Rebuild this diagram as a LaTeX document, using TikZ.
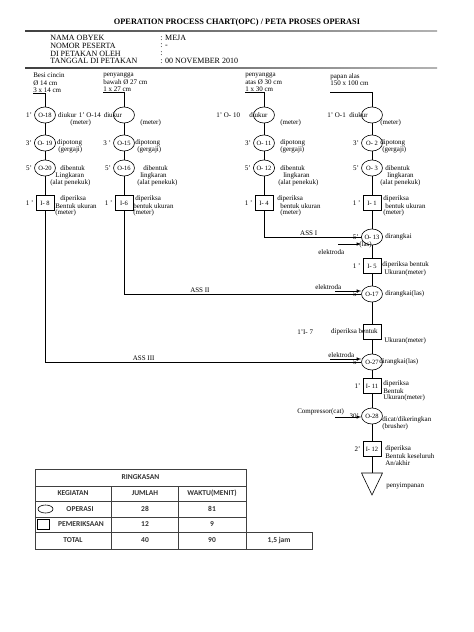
\documentclass[tikz,border=0pt]{standalone}
\usepackage{fontspec}
\setmainfont{Liberation Serif}
\newfontfamily\tablefont{Carlito}
\usetikzlibrary{shapes,positioning}

\begin{document}
\begin{tikzpicture}[x=1pt, y=-1pt, line width=0.6pt,
    op/.style={ellipse, draw, minimum width=21pt, minimum height=16pt, inner sep=0pt, font=\fontsize{6.5}{7}\selectfont},
    insp/.style={rectangle, draw, minimum width=18pt, minimum height=15pt, inner sep=0pt, font=\fontsize{6.5}{7}\selectfont},
    lbl/.style={inner sep=0pt, anchor=west, font=\fontsize{7}{7.5}\selectfont},
    head/.style={inner sep=0pt, anchor=west, font=\fontsize{8}{8}\selectfont},
    feed/.style={-latex},
    cell/.style={inner sep=0pt, font=\tablefont\bfseries\fontsize{7.5}{8}\selectfont, text=black!80}
]
\useasboundingbox (0,0) rectangle (474,632);

% Header
\node[font=\bfseries\fontsize{8.3}{10}\selectfont] (title) at (237,23) {OPERATION PROCESS CHART(OPC) / PETA PROSES OPERASI};
\shade[left color=black!75, right color=black!30] (25,30.2) rectangle (437,31.8);
\foreach \fld/\val [count=\i] in {NAMA OBYEK/: MEJA, NOMOR PESERTA/: -, DI PETAKAN OLEH/:, TANGGAL DI PETAKAN/: 00 NOVEMBER 2010} {
    \node[head] (fld\i) at (50,{30.5+7.7*\i}) {\fld};
    \node[head] (val\i) at (160,{30.5+7.7*\i}) {\val};
}
\shade[left color=black!75, right color=black!30] (25,67.2) rectangle (437,68.8);

% Materials
\node[lbl, anchor=north west, align=left] (m1) at (33,73) {Besi cincin\\ Ø 14 cm\\ 3 x 14 cm};
\node[lbl, anchor=north west, align=left] (m2) at (103,73) {penyangga\\ bawah Ø 27 cm\\ 1 x 27 cm};
\node[lbl, anchor=north west, align=left] (m3) at (245,73) {penyangga\\ atas Ø 30 cm\\ 1 x 30 cm};
\node[lbl, anchor=north west, align=left] (m4) at (330,73) {papan alas\\ 150 x 100 cm};

% Column 1 (besi cincin)
\node[op] (o18) at (45,115) {O-18};
\node[lbl, left=2pt of o18] (t18) {1'};
\node[lbl, right=2pt of o18] (d18) {diukur};
\node[lbl] (u18) at (70,123) {(meter)};
\node[op] (o19) at (45,143) {O- 19};
\node[lbl, left=2pt of o19] (t19) {3'};
\node[lbl, right=1pt of o19] (d19) {dipotong};
\node[lbl] (g19) at (58,150) {(gergaji)};
\node[op] (o20) at (45,168) {O-20};
\node[lbl, left=2pt of o20] (t20) {5'};
\node[lbl] (d20) at (60,168) {dibentuk};
\node[lbl] (k20) at (55,176) {Lingkaran};
\node[lbl] (a20) at (50,183) {(alat penekuk)};
\node[insp] (i8) at (45,203) {I- 8};
\node[lbl, left=2pt of i8] (t8) {1 '};
\node[lbl] (d8) at (60,199) {diperiksa};
\node[lbl] (b8) at (55,206) {Bentuk ukuran};
\node[lbl] (u8) at (55,213) {(meter)};

% Column 2 (penyangga bawah)
\node[op] (o14) at (124,115) {};
\node[lbl] (t14) at (78.5,115) {1' O-14};
\node[lbl] (d14) at (103.5,115) {diukur};
\node[lbl] (u14) at (140,123) {(meter)};
\node[op] (o15) at (124,143) {O-15};
\node[lbl, left=2pt of o15] (t15) {3 '};
\node[lbl] (d15) at (135,143) {dipotong};
\node[lbl] (g15) at (137,150) {(gergaji)};
\node[op] (o16) at (124,168) {O-16};
\node[lbl, left=2pt of o16] (t16) {5'};
\node[lbl] (d16) at (143,168) {dibentuk};
\node[lbl] (k16) at (140,176) {lingkaran};
\node[lbl] (a16) at (137,183) {(alat penekuk)};
\node[insp] (i6) at (124,203) {I-6};
\node[lbl, left=2pt of i6] (t6) {1 '};
\node[lbl] (d6) at (135,199) {diperiksa};
\node[lbl] (b6) at (133,206) {bentuk ukuran};
\node[lbl] (u6) at (133,213) {(meter)};

% Column 3 (penyangga atas)
\node[op] (o10) at (264,115) {};
\node[lbl] (t10) at (216,115) {1' O- 10};
\node[lbl] (d10) at (249,115) {diukur};
\node[lbl] (u10) at (280,123) {(meter)};
\node[op] (o11) at (264,143) {O- 11};
\node[lbl, left=2pt of o11] (t11) {3'};
\node[lbl] (d11) at (280,143) {dipotong};
\node[lbl] (g11) at (280,150) {(gergaji)};
\node[op] (o12) at (264,168) {O- 12};
\node[lbl, left=2pt of o12] (t12) {5'};
\node[lbl] (d12) at (280,168) {dibentuk};
\node[lbl] (k12) at (283,176) {lingkaran};
\node[lbl] (a12) at (278,183) {(alat penekuk)};
\node[insp] (i4) at (264,203) {I- 4};
\node[lbl, left=2pt of i4] (t4) {1 '};
\node[lbl] (d4) at (277,199) {diperiksa};
\node[lbl] (b4) at (280,206) {bentuk ukuran};
\node[lbl] (u4) at (280,213) {(meter)};

% Column 4 (papan alas)
\node[op] (o1) at (372,115) {};
\node[lbl] (t1) at (327,115) {1' O-1};
\node[lbl] (d1) at (349,115) {diukur};
\node[lbl] (u1) at (380,123) {(meter)};
\node[op] (o2) at (372,143) {O- 2};
\node[lbl, left=2pt of o2] (t2) {3'};
\node[lbl] (d2) at (380,143) {dipotong};
\node[lbl] (g2) at (382,150) {(gergaji)};
\node[op] (o3) at (372,168) {O- 3};
\node[lbl, left=2pt of o3] (t3) {5'};
\node[lbl] (d3) at (385,168) {dibentuk};
\node[lbl] (k3) at (387,176) {lingkaran};
\node[lbl] (a3) at (380,183) {(alat penekuk)};
\node[insp] (i1) at (372,203) {I- 1};
\node[lbl, left=2pt of i1] (ti1) {1 '};
\node[lbl] (di1) at (383,199) {diperiksa};
\node[lbl] (bi1) at (385,206) {bentuk ukuran};
\node[lbl] (ui1) at (383,213) {(meter)};

% Assembly
\node[op] (o13) at (372,237) {O- 13};
\node[lbl, left=2pt of o13] (t13) {5'};
\node[lbl] (d13) at (385,237) {dirangkai};
\node[lbl] (l13) at (359,245) {(las)};
\coordinate (e13) at (338,244);
\node[lbl] (el13) at (318,252) {elektroda};
\node[insp] (i5) at (372,266) {I- 5};
\node[lbl, left=2pt of i5] (t5) {1 '};
\node[lbl] (d5) at (382,265) {diperiksa bentuk};
\node[lbl] (u5) at (384,273) {Ukuran(meter)};
\node[op] (o17) at (372,294) {O-17};
\node[lbl, left=2pt of o17] (t17) {5'};
\node[lbl] (d17) at (385,294) {dirangkai(las)};
\coordinate (e17) at (335,291);
\node[lbl] (el17) at (315,287) {elektroda};
\node[insp] (i7) at (372,332) {};
\node[lbl] (t7) at (297,332) {1'I- 7};
\node[lbl, anchor=east] (d7) at (378,332) {diperiksa bentuk};
\node[lbl] (u7) at (384,341) {Ukuran(meter)};
\node[op] (o27) at (372,362) {O-27};
\node[lbl, left=2pt of o27] (t27) {5'};
\node[lbl] (d27) at (379,362) {dirangkai(las)};
\coordinate (e27) at (330,359);
\node[lbl] (el27) at (328,355) {elektroda};
\node[insp] (i11) at (372,386) {I- 11};
\node[lbl, left=2pt of i11] (t11b) {1'};
\node[lbl] (d11b) at (383,384) {diperiksa};
\node[lbl] (b11b) at (383,391) {Bentuk};
\node[lbl] (u11b) at (383,398) {Ukuran(meter)};
\node[op] (o28) at (372,416) {O-28};
\node[lbl, left=2pt of o28] (t28) {30'};
\node[lbl] (d28) at (382,420) {dicat/dikeringkan};
\node[lbl] (b28) at (382,427) {(brusher)};
\coordinate (e28) at (335,417);
\node[lbl] (cp28) at (297,412) {Compressor(cat)};
\node[insp] (i12) at (372,449) {I- 12};
\node[lbl, left=2pt of i12] (t12b) {2'};
\node[lbl] (d12b) at (385,449) {diperiksa};
\node[lbl] (b12b) at (385,456) {Bentuk keseluruh};
\node[lbl] (a12b) at (385,463) {An/akhir};
\coordinate (st) at (372,473);
\draw (st) ++(-10.5,0) -- ++(21,0) -- ++(-10.5,22) -- cycle;
\node[lbl] (sp) at (386,486) {penyimpanan};

% Flow lines
\draw (m1.south west) -| (o18);
\draw (o18) -- (o19) -- (o20) -- (i8);
\draw (m2.south west) -| (o14);
\draw (o14) -- (o15) -- (o16) -- (i6);
\draw (m3.south west) -| (o10);
\draw (o10) -- (o11) -- (o12) -- (i4);
\draw (m4.south west |- m3.south) -| (o1);
\draw (o1) -- (o2) -- (o3) -- (i1) -- (o13) -- (i5) -- (o17) -- (i7) -- (o27) -- (i11) -- (o28) -- (i12) -- (st);
\draw (i4) |- node[lbl, above=1pt, pos=0.73] (ass1) {ASS I} (o13);
\draw (i6) |- node[lbl, above=1pt, pos=0.66] (ass2) {ASS II} (o17);
\draw (i8) |- node[lbl, above=1pt, pos=0.656] (ass3) {ASS III} (o27);
\draw[feed] (e13) -- (e13 -| o13.west);
\draw[feed] (e17) -- (e17 -| o17.west);
\draw[feed] (e27) -- (e27 -| o27.west);
\draw[feed] (e28) -- (e28 -| o28.west);

% Ringkasan
\draw[black!75] (35,469) rectangle (246,549);
\foreach \y in {486,501,517,532} \draw[black!75] (35,\y) -- (246,\y);
\foreach \x in {111,178} \draw[black!75] (\x,486) -- (\x,549);
\draw[black!75] (246,532) rectangle (312,549);
\node[cell] (rk) at (140.5,477.5) {RINGKASAN};
\foreach \y/\kx/\k/\j/\w [count=\r] in {493.5/73/KEGIATAN/JUMLAH/WAKTU(MENIT), 509/80/OPERASI/28/81, 524.5/81/PEMERIKSAAN/12/9, 540.5/73/TOTAL/40/90} {
    \node[cell] (k\r) at (\kx,\y) {\k};
    \node[cell] (j\r) at (145,\y) {\j};
    \node[cell] (w\r) at (212,\y) {\w};
}
\node[cell] (jam) at (279,540.5) {1,5 jam};
\node[ellipse, draw, minimum width=15pt, minimum height=8pt, inner sep=0pt] (opicon) at (45.5,509) {};
\node[draw, minimum width=12pt, minimum height=10pt, inner sep=0pt] (inspicon) at (43.5,524.5) {};

\end{tikzpicture}
\end{document}
